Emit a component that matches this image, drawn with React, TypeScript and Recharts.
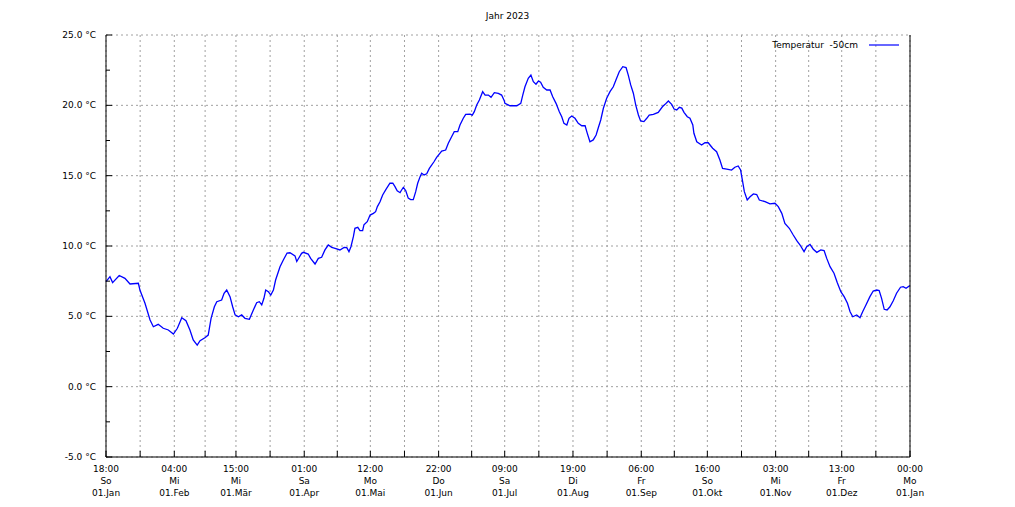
import React from 'react';
import { LineChart, Line, XAxis, YAxis, CartesianGrid, Legend } from 'recharts';

// Tag im Jahr (0 = 01.Jan 00:00) und Bodentemperatur in -50cm
const days = [
  0, 1.8, 3.0, 6.0, 8.6, 10.9, 14.7, 15.4, 17.7, 20.0, 21.5, 23.7, 26.0, 28.3, 30.6, 32.4, 34.4, 36.3,
  38.1, 39.6, 41.4, 42.7, 44.9, 46.4, 47.7, 49.2, 50.3, 52.5, 53.6, 54.8, 56.3, 57.5, 58.6, 60.1, 61.6,
  63.1, 65.1, 66.9, 68.4, 69.6, 70.7, 71.7, 72.5, 73.7, 74.8, 76.0, 77.0, 79.0, 80.5, 82.2, 83.5, 85.8,
  86.6, 88.8, 89.6, 91.8, 92.9, 94.9, 96.4, 97.9, 99.4, 100.9, 102.5, 104.0, 106.2, 108.1, 109.3, 110.3,
  111.2, 112.3, 113.0, 114.3, 115.3, 116.5, 117.1, 118.6, 119.9, 121.4, 122.4, 123.2, 124.4, 125.6, 127.1,
  128.9, 130.2, 131.2, 132.2, 133.5, 134.2, 135.0, 136.1, 137.2, 138.3, 139.5, 140.6, 141.5, 142.6, 143.3,
  144.4, 145.6, 146.8, 147.9, 148.9, 150.1, 152.4, 154.2, 155.4, 156.9, 158.1, 159.7, 160.7, 162.2, 163.3,
  165.3, 166.3, 167.2, 168.3, 169.5, 171.0, 172.1, 173.6, 174.8, 176.3, 178.1, 179.6, 180.8, 181.1, 183.4,
  186.5, 188.3, 189.2, 190.2, 191.7, 192.9, 194.0, 195.2, 196.3, 197.3, 198.5, 200.1, 201.6, 202.8, 204.3,
  205.8, 206.9, 207.9, 209.2, 210.2, 211.4, 212.9, 214.4, 216.0, 217.5, 218.5, 219.7, 221.2, 222.5, 223.5,
  224.6, 225.8, 227.3, 228.8, 230.3, 231.5, 233.0, 234.6, 236.1, 237.1, 238.2, 239.4, 240.5, 241.7, 242.7,
  244.2, 245.5, 246.6, 248.5, 250.7, 252.6, 253.8, 255.3, 256.8, 257.9, 259.1, 260.3, 261.4, 262.4, 263.9,
  265.1, 266.4, 266.9, 268.2, 270.4, 271.9, 273.4, 275.4, 277.2, 278.7, 279.9, 281.8, 284.0, 285.5, 287.0,
  288.1, 288.9, 289.8, 291.1, 292.4, 293.9, 295.4, 296.6, 299.2, 301.4, 303.7, 305.2, 306.8, 308.2, 310.2,
  312.0, 313.6, 315.1, 316.9, 318.1, 319.6, 321.1, 322.7, 324.5, 326.0, 327.2, 328.7, 330.5, 332.0, 333.6,
  335.1, 336.6, 337.8, 339.0, 340.8, 342.3, 343.5, 345.0, 346.8, 348.3, 349.9, 351.0, 352.1, 353.3, 354.6,
  355.9, 357.4, 358.9, 360.7, 361.9, 363.2, 364.7, 365,
];

const temps = [
  7.47, 7.82, 7.4, 7.9, 7.7, 7.3, 7.35, 6.87, 5.93, 4.74, 4.26, 4.43, 4.15, 4.03, 3.74, 4.15, 4.9, 4.69,
  4.03, 3.32, 2.96, 3.27, 3.48, 3.67, 4.86, 5.68, 6.04, 6.16, 6.64, 6.87, 6.4, 5.68, 5.1, 4.97, 5.1,
  4.86, 4.79, 5.45, 5.97, 6.04, 5.81, 6.28, 6.87, 6.75, 6.51, 6.87, 7.58, 8.53, 9.0, 9.5, 9.52, 9.3,
  8.9, 9.48, 9.55, 9.43, 9.12, 8.72, 9.12, 9.2, 9.72, 10.07, 9.9, 9.83, 9.72, 9.9, 9.88, 9.6,
  9.95, 10.66, 11.26, 11.33, 11.09, 11.1, 11.5, 11.73, 12.2, 12.32, 12.44, 12.8, 13.15, 13.63, 14.03,
  14.46, 14.46, 14.22, 13.93, 13.79, 13.98, 14.17, 13.93, 13.4, 13.3, 13.3, 13.86, 14.46, 14.93, 15.17,
  15.05, 15.13, 15.52, 15.76, 15.99, 16.3, 16.75, 16.82, 17.3, 17.77, 18.13, 18.13, 18.6, 19.08, 19.36,
  19.38, 19.3, 19.55, 20.02, 20.38, 20.97, 20.73, 20.73, 20.57, 20.9, 20.85, 20.73, 20.33, 20.14, 19.97,
  19.97, 20.14, 20.73, 21.32, 21.92, 22.15, 21.68, 21.5, 21.73, 21.64, 21.28, 21.09, 21.09, 20.61, 20.14,
  19.55, 19.19, 18.72, 18.6, 19.08, 19.24, 19.08, 18.72, 18.55, 18.55, 18.01, 17.41, 17.54, 17.89, 18.41,
  18.96, 19.79, 20.5, 20.97, 21.32, 21.8, 22.39, 22.75, 22.68, 22.15, 21.45, 20.86, 20.02, 19.31, 18.89,
  18.84, 19.08, 19.31, 19.36, 19.5, 19.9, 20.07, 20.31, 20.07, 19.74, 19.67, 19.86, 19.8, 19.5, 19.19,
  19.08, 18.6, 18.01, 17.41, 17.18, 17.34, 17.34, 16.95, 16.7, 16.11, 15.52, 15.47, 15.4, 15.6, 15.69,
  15.4, 14.69, 13.86, 13.27, 13.5, 13.7, 13.66, 13.27, 13.15, 12.99, 13.04, 12.8, 12.32, 11.61, 11.26,
  10.78, 10.38, 10.07, 9.6, 9.95, 10.12, 9.77, 9.55, 9.72, 9.67, 9.12, 8.53, 8.06, 7.39, 6.75,
  6.4, 5.93, 5.33, 4.97, 5.1, 4.9, 5.33, 5.81, 6.4, 6.8, 6.87, 6.84, 6.28, 5.5, 5.45,
  5.68, 6.11, 6.64, 7.07, 7.11, 7.0, 7.16, 7.16,
];

// Monatsanfaenge (Tag im Jahr) und Beschriftungen
const monthStarts = [0, 31, 59, 90, 120, 151, 181, 212, 243, 273, 304, 334, 365];
const tickTimes = ['18:00', '04:00', '15:00', '01:00', '12:00', '22:00', '09:00', '19:00', '06:00', '16:00', '03:00', '13:00', '00:00'];
const tickDays = ['So', 'Mi', 'Mi', 'Sa', 'Mo', 'Do', 'Sa', 'Di', 'Fr', 'So', 'Mi', 'Fr', 'Mo'];
const tickDates = ['01.Jan', '01.Feb', '01.Mär', '01.Apr', '01.Mai', '01.Jun', '01.Jul', '01.Aug', '01.Sep', '01.Okt', '01.Nov', '01.Dez', '01.Jan'];

const yMajor = [-5, 0, 5, 10, 15, 20, 25];
const yTicks = [-5, -2.5, 0, 2.5, 5, 7.5, 10, 12.5, 15, 17.5, 20, 22.5, 25];

const data = days.map((d, i) => ({ day: d, temp: temps[i] }));

const midMonths = monthStarts.slice(1).map((m, i) => (m + monthStarts[i]) / 2);
const xTicks = [...monthStarts, ...midMonths].sort((a, b) => a - b);

const FONT = '"DejaVu Sans", sans-serif';
const TXT = '#000';

const fmtY = (v: number) => `${v.toFixed(1)} °C`;

const BottomTick = (props: any) => {
  const { x, y, payload } = props;
  const idx = monthStarts.indexOf(payload.value);
  return (
    <g>
      <line x1={x} x2={x} y1={y} y2={y - 6} stroke="#000" />
      {idx >= 0 && (
        <text x={x} y={y} textAnchor="middle" fontSize={9} fontFamily={FONT} fill={TXT}>
          <tspan x={x} dy={15}>{tickTimes[idx]}</tspan>
          <tspan x={x} dy={12}>{tickDays[idx]}</tspan>
          <tspan x={x} dy={12}>{tickDates[idx]}</tspan>
        </text>
      )}
    </g>
  );
};

const TopTick = (props: any) => {
  const { x, y } = props;
  return <line x1={x} x2={x} y1={y} y2={y + 6} stroke="#000" />;
};

const LeftTick = (props: any) => {
  const { x, y, payload } = props;
  const major = yMajor.includes(payload.value);
  return (
    <g>
      <line x1={x} x2={x + (major ? 6 : 4)} y1={y} y2={y} stroke="#000" />
      {major && (
        <text x={x - 10} y={y} dy={3} textAnchor="end" fontSize={9} fontFamily={FONT} fill={TXT}>
          {fmtY(payload.value)}
        </text>
      )}
    </g>
  );
};

const RightTick = (props: any) => {
  const { x, y, payload } = props;
  const major = yMajor.includes(payload.value);
  return (
    <g>
      <line x1={x} x2={x - (major ? 6 : 4)} y1={y} y2={y} stroke="#000" />
      {major && (
        <text x={x + 8} y={y} dy={3} textAnchor="start" fontSize={9} fontFamily={FONT} fill={TXT}>
          {fmtY(payload.value)}
        </text>
      )}
    </g>
  );
};

const LegendBox = () => (
  <div style={{ display: 'flex', alignItems: 'center', justifyContent: 'flex-end', fontFamily: FONT, fontSize: 9, color: TXT }}>
    <span style={{ whiteSpace: 'pre' }}>Temperatur  -50cm</span>
    <svg width={30} height={10} style={{ marginLeft: 11 }}>
      <line x1={0} x2={30} y1={5} y2={5} stroke="#0000ff" strokeWidth={1.2} />
    </svg>
  </div>
);

export default function App() {
  return (
    <div style={{ position: 'absolute', left: 0, top: 0, width: 1015, height: 507, background: '#fff' }}>
      <div
        style={{
          position: 'absolute',
          top: 11,
          left: 0,
          width: 1015,
          textAlign: 'center',
          fontFamily: FONT,
          fontSize: 9,
          color: TXT,
        }}
      >
        Jahr 2023
      </div>
      <LineChart width={1015} height={507} data={data} margin={{ top: 35, right: 0, bottom: 0, left: 0 }}>
        <CartesianGrid
          stroke="#a0a0a0"
          strokeDasharray="2 3"
          horizontalValues={yMajor}
          verticalValues={xTicks}
        />
        <XAxis
          dataKey="day"
          type="number"
          domain={[0, 365]}
          ticks={xTicks}
          interval={0}
          height={50}
          tickSize={0}
          tickMargin={0}
          tick={<BottomTick />}
          axisLine={{ stroke: '#000' }}
          tickLine={false}
        />
        <XAxis
          xAxisId="top"
          dataKey="day"
          type="number"
          orientation="top"
          domain={[0, 365]}
          ticks={xTicks}
          interval={0}
          height={0}
          tickSize={0}
          tickMargin={0}
          tick={<TopTick />}
          axisLine={{ stroke: '#000' }}
          tickLine={false}
        />
        <YAxis
          type="number"
          domain={[-5, 25]}
          ticks={yTicks}
          interval={0}
          width={106}
          tickSize={0}
          tickMargin={0}
          tick={<LeftTick />}
          axisLine={{ stroke: '#000' }}
          tickLine={false}
        />
        <YAxis
          yAxisId="right"
          orientation="right"
          type="number"
          domain={[-5, 25]}
          ticks={yTicks}
          interval={0}
          width={105}
          tickSize={0}
          tickMargin={0}
          tick={<RightTick />}
          axisLine={{ stroke: '#000' }}
          tickLine={false}
        />
        <Legend
          layout="horizontal"
          verticalAlign="middle"
          align="center"
          content={<LegendBox />}
          wrapperStyle={{ top: 40, left: 717, width: 182, height: 12 }}
        />
        <Line
          type="linear"
          dataKey="temp"
          stroke="#0000ff"
          strokeWidth={1.3}
          dot={false}
          activeDot={false}
          isAnimationActive={false}
        />
      </LineChart>
    </div>
  );
}
